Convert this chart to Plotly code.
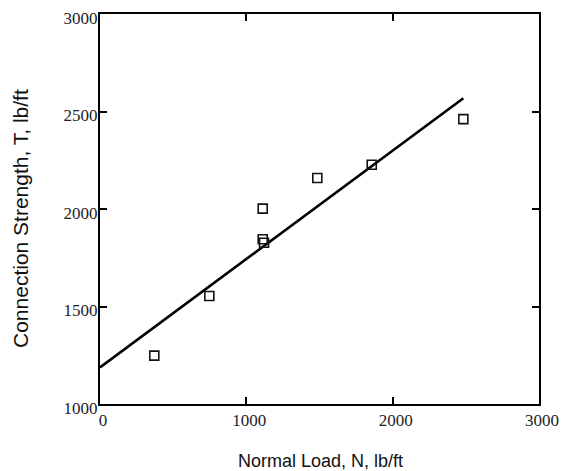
import plotly.graph_objects as go

# Data
normal_load = [371, 747, 1112, 1112, 1121, 1485, 1857, 2483]
connection_strength = [1248, 1554, 2002, 1845, 1827, 2159, 2227, 2461]
fit_x = [0, 2483]
fit_y = [1188, 2568]

x_ticks = [0, 1000, 2000, 3000]
y_ticks = [1000, 1500, 2000, 2500, 3000]

fig = go.Figure()
fig.add_trace(go.Scatter(x=fit_x, y=fit_y, mode="lines",
                         line=dict(color="black", width=2.6),
                         showlegend=False, hoverinfo="skip"))
fig.add_trace(go.Scatter(x=normal_load, y=connection_strength, mode="markers",
                         marker=dict(symbol="square-open", size=9, color="#111111",
                                     line=dict(width=1.6)),
                         showlegend=False))

tickfont = dict(family="Liberation Serif, Times New Roman, serif", size=17, color="#1c1c28")
axis_common = dict(showgrid=False, zeroline=False, showline=True, linecolor="black",
                   linewidth=2, mirror="ticks", ticks="inside", ticklen=7,
                   tickwidth=1.5, tickcolor="black", tickfont=tickfont,
                   automargin=False, ticklabeloverflow="allow")

fig.update_xaxes(range=[0, 3000], tickvals=x_ticks, ticktext=[str(v) for v in x_ticks],
                 ticklabelshift=3, **axis_common)
fig.update_yaxes(range=[1000, 3000], tickvals=y_ticks, ticktext=[str(v) for v in y_ticks],
                 ticklabelshift=4, ticklabelstandoff=-3, **axis_common)

xtitlefont = dict(family="Liberation Sans, Arial, sans-serif", size=18, color="#111111")
ytitlefont = dict(family="Liberation Sans, Arial, sans-serif", size=21, color="#111111")

W, H = 565, 471
L, R, T, B = 100, 26, 14, 67
pw, ph = W - L - R, H - T - B

fig.update_layout(
    width=W, height=H,
    margin=dict(l=L, r=R, t=T, b=B, autoexpand=False),
    paper_bgcolor="white", plot_bgcolor="white",
    annotations=[
        dict(text="Normal Load, N, lb/ft", showarrow=False, font=xtitlefont,
             xref="paper", yref="paper",
             x=(320 - L) / pw, y=(H - B - 461) / ph,
             xanchor="center", yanchor="middle"),
        dict(text="Connection Strength, T, lb/ft", textangle=-90, showarrow=False,
             font=ytitlefont, xref="paper", yref="paper",
             x=(20 - L) / pw, y=(H - B - 219) / ph,
             xanchor="center", yanchor="middle"),
    ],
)

# Remove the browser's default 8px page margin so the 565x471 figure fills the window.
fig.write_html("out.html",
               config={"displayModeBar": False},
               post_script="document.body.style.margin='0';document.body.style.overflow='hidden';")
